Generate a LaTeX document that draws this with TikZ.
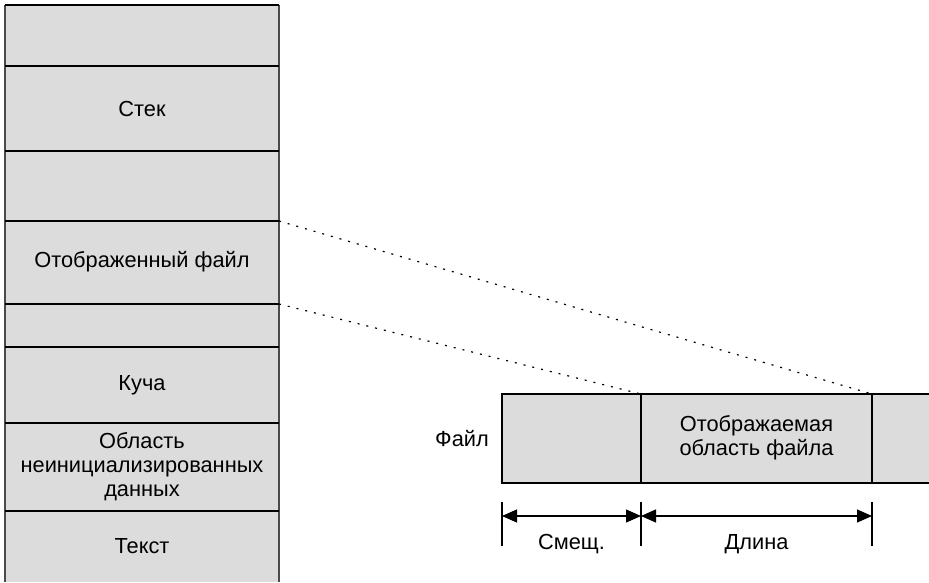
\documentclass[tikz,border=0pt]{standalone}
\usepackage{fontspec}
\setmainfont{Liberation Sans}
\usetikzlibrary{arrows.meta}
\definecolor{cellfill}{HTML}{DCDCDC}
\definecolor{edgegray}{HTML}{4A4A4A}
\begin{document}
\begin{tikzpicture}[x=1pt,y=-1pt,
  lbl/.style={font=\fontsize{21.8}{24}\selectfont, align=center, inner sep=0pt},
  hline/.style={line width=1.2pt, black},
  vline/.style={line width=1.8pt, edgegray},
  dotline/.style={line width=1.2pt, dash pattern=on 2pt off 7pt},
  dim/.style={line width=1.2pt, {Triangle[length=15pt,width=13pt]}-{Triangle[length=15pt,width=13pt]}},
  tick/.style={line width=1.2pt}]
\useasboundingbox (0,0) rectangle (929,582);
% memory stack
\fill[cellfill] (5,5) rectangle (279,582);
\draw[vline] (5,5) -- (5,582);
\draw[vline] (279,5) -- (279,582);
\foreach \y in {5,66,151,221,304,347,423,511}
  \draw[hline] (5,\y) -- (279,\y);
\node[lbl] (stek) at (142,109) {Стек};
\node[lbl] (mapped) at (142,262) {Отображенный файл};
\node[lbl] (heap) at (142,385) {Куча};
\node[lbl] (bss) at (142,467) {Область\\неинициализированных\\данных};
\node[lbl] (text) at (142,546) {Текст};
\coordinate (mtop) at (279,221);
\coordinate (mbot) at (279,304);
% file
\fill[cellfill] (502,394) rectangle (929,483);
\draw[hline] (929,394) -- (502,394) -- (502,483) -- (929,483);
\draw[hline] (641,394) -- (641,483);
\draw[hline] (872,394) -- (872,483);
\coordinate (fa) at (641,394);
\coordinate (fb) at (872,394);
\node[lbl] (region) at (756.5,438) {Отображаемая\\область файла};
\node[lbl, anchor=east] (file) at (489,439) {Файл};
% dotted mapping lines
\draw[dotline] (mtop) -- (fb);
\draw[dotline] (mbot) -- (fa);
% dimension lines
\coordinate (t1) at (502,502);
\coordinate (t2) at (641,502);
\coordinate (t3) at (872,502);
\draw[tick] (t1) -- ++(0,44);
\draw[tick] (t2) -- ++(0,44);
\draw[tick] (t3) -- ++(0,44);
\coordinate (a1) at (502,516);
\coordinate (a2) at (641,516);
\coordinate (a3) at (872,516);
\draw[dim] (a1) -- (a2);
\draw[dim] (a2) -- (a3);
\node[lbl] (off) at (571.5,544) {Смещ.};
\node[lbl] (len) at (756.5,544) {Длина};
\end{tikzpicture}
\end{document}
